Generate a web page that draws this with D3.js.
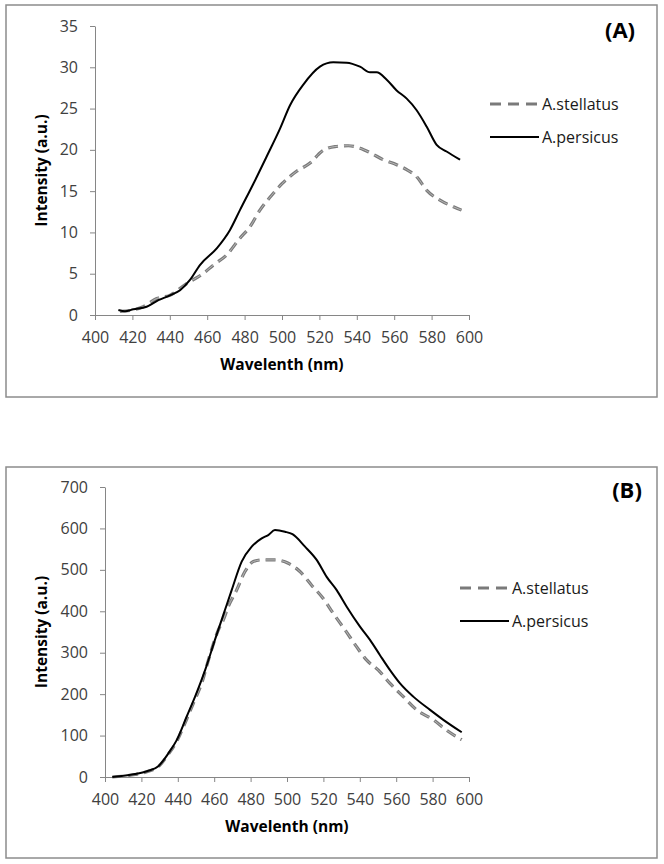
<!DOCTYPE html>
<html><head><meta charset="utf-8">
<script src="https://cdn.jsdelivr.net/npm/d3@7"></script>
<style>body{margin:0;background:#fff}svg{display:block}</style>
</head><body>
<svg id="c" width="664" height="864"></svg>
<script>
// Panel A data
const aStellatusX = [413.4,420,425.8,433,440,449,458,463.3,470.4,477.5,482.9,488.2,494.5,500,507.8,515,521.2,528.3,535.5,541.7,547.1,554.2,561.3,566.7,572,577.4,584.5,591.7,596];
const aStellatusY = [0.45,0.6,1.0,2.0,2.38,3.8,5.05,6.05,7.27,9.3,10.7,12.7,14.5,15.9,17.4,18.4,19.8,20.4,20.5,20.2,19.66,18.8,18.2,17.6,16.75,15.1,13.9,13.1,12.7];
const aPersicusX = [412.5,416,420.5,427.6,433.9,440.1,445.5,450.8,456.1,465.1,472.2,477.5,484.7,491.8,499,504.3,511.4,520.3,527.4,534.6,541.7,547.1,550.6,556,561.3,566.7,572,577.4,582.7,588,595.2];
const aPersicusY = [0.6,0.45,0.69,1.0,1.8,2.38,3.0,4.24,6.05,8.07,10.3,12.7,15.9,19.2,22.6,25.4,27.9,30.07,30.6,30.56,30.07,29.4,29.4,28.5,27.2,26.2,24.8,22.8,20.6,19.8,18.8];
// Panel B data
const bStellatusX = [404,416.5,423.8,429.3,434.8,439.4,444.9,449.5,453.1,456.8,462.3,465,467.7,472.3,476.9,481.5,486.1,493.4,500.7,507.1,513.5,519.9,525.4,531.9,538.3,543.8,550.2,556.6,563.9,571.2,580.4,587.6,596];
const bStellatusY = [0,6,14,25,55,86,140,188,226,282,355,379,411,451,496,520,524,524,516,496,463,431,395,355,314,282,258,226,194,162,138,113,90];
const bPersicusX = [404,416.5,423.8,429.3,434.8,439.4,444.9,449.5,455,460.4,465.9,469.6,475.1,480.6,486.1,489.7,493.4,498.9,503,509.9,516.3,521.8,527.3,532.8,540.1,545.6,551.1,556.6,562.1,569.4,578.6,585.9,596];
const bPersicusY = [0,7,15,26,57,89,146,194,258,331,403,451,520,556,576,584,596,592,586,556,524,483,451,411,363,331,294,258,226,194,162,138,108];

const xTicks = [400,420,440,460,480,500,520,540,560,580,600];
const aYTicks = [0,5,10,15,20,25,30,35];
const bYTicks = [0,100,200,300,400,500,600,700];
const seriesNames = ["A.stellatus","A.persicus"];
const xTitle = "Wavelenth (nm)";
const yTitle = "Intensity (a.u.)";

const svg = d3.select("#c");
const FONT = "'Open Sans', sans-serif";
const AX = "#868686";

function panel(cfg){
  const g = svg.append("g");
  g.append("rect").attr("x",cfg.box[0]).attr("y",cfg.box[1]).attr("width",cfg.box[2]).attr("height",cfg.box[3])
    .attr("fill","#fff").attr("stroke","#8c8c8c").attr("stroke-width",1.5);
  const x = d3.scaleLinear().domain([400,600]).range([cfg.left,469]);
  const y = d3.scaleLinear().domain([0,cfg.ymax]).range([cfg.bottom,cfg.top]);
  const xa = g.append("g").attr("transform",`translate(0,${cfg.bottom})`)
    .call(d3.axisBottom(x).tickValues(xTicks).tickSize(5).tickPadding(12).tickSizeOuter(0));
  const ya = g.append("g").attr("transform",`translate(${cfg.left},0)`)
    .call(d3.axisLeft(y).tickValues(cfg.yTicks).tickSize(5).tickPadding(12).tickSizeOuter(0));
  [xa,ya].forEach(a=>{
    a.selectAll("path,line").attr("stroke",AX).attr("stroke-width",1);
    a.selectAll("text").attr("font-family",FONT).attr("font-size",16).attr("fill","#404040");
  });
  g.append("text").attr("x",(cfg.left+469)/2).attr("y",cfg.bottom+55).attr("text-anchor","middle")
    .attr("font-family",FONT).attr("font-weight","bold").attr("font-size",15.5).text(xTitle);
  g.append("text").attr("transform",`translate(47,${(cfg.top+cfg.bottom)/2}) rotate(-90)`).attr("text-anchor","middle")
    .attr("font-family",FONT).attr("font-weight","bold").attr("font-size",15.5).text(yTitle);
  g.append("text").attr("x",cfg.label[0]).attr("y",cfg.label[1]).attr("text-anchor","middle")
    .attr("font-family",FONT).attr("font-weight","bold").attr("font-size",22).text(cfg.name);

  const line = d3.line().x(d=>x(d[0])).y(d=>y(d[1])).curve(d3.curveMonotoneX);
  const s = d3.zip(cfg.sx,cfg.sy), p = d3.zip(cfg.px,cfg.py);
  g.append("path").datum(s).attr("d",line).attr("fill","none").attr("stroke","#7a7a7a")
    .attr("stroke-width",3.2).attr("stroke-dasharray","10,6");
  g.append("path").datum(s).attr("d",line).attr("fill","none").attr("stroke","#bdbdbd")
    .attr("stroke-width",0.9).attr("stroke-dasharray","10,6");
  g.append("path").datum(p).attr("d",line).attr("fill","none").attr("stroke","#000")
    .attr("stroke-width",2);

  // legend
  const lg = cfg.legend;
  g.append("line").attr("x1",lg[0]).attr("x2",lg[0]+49).attr("y1",lg[1]).attr("y2",lg[1])
    .attr("stroke","#7a7a7a").attr("stroke-width",3).attr("stroke-dasharray","11,7");
  g.append("line").attr("x1",lg[0]).attr("x2",lg[0]+49).attr("y1",lg[1]+33).attr("y2",lg[1]+33)
    .attr("stroke","#000").attr("stroke-width",2);
  seriesNames.forEach((n,i)=>{
    g.append("text").attr("x",lg[0]+52).attr("y",lg[1]+i*33).attr("dy","0.35em")
      .attr("font-family",FONT).attr("font-size",16).attr("fill","#1a1a1a").text(n);
  });
}

panel({box:[6,5,651,392],left:95,top:26,bottom:315,ymax:35,yTicks:aYTicks,
  label:[620,38],name:"(A)",legend:[490,104],
  sx:aStellatusX,sy:aStellatusY,px:aPersicusX,py:aPersicusY});
panel({box:[6,467,651,391],left:105,top:487,bottom:777,ymax:700,yTicks:bYTicks,
  label:[627,498],name:"(B)",legend:[460,588],
  sx:bStellatusX,sy:bStellatusY,px:bPersicusX,py:bPersicusY});
</script>
</body></html>
